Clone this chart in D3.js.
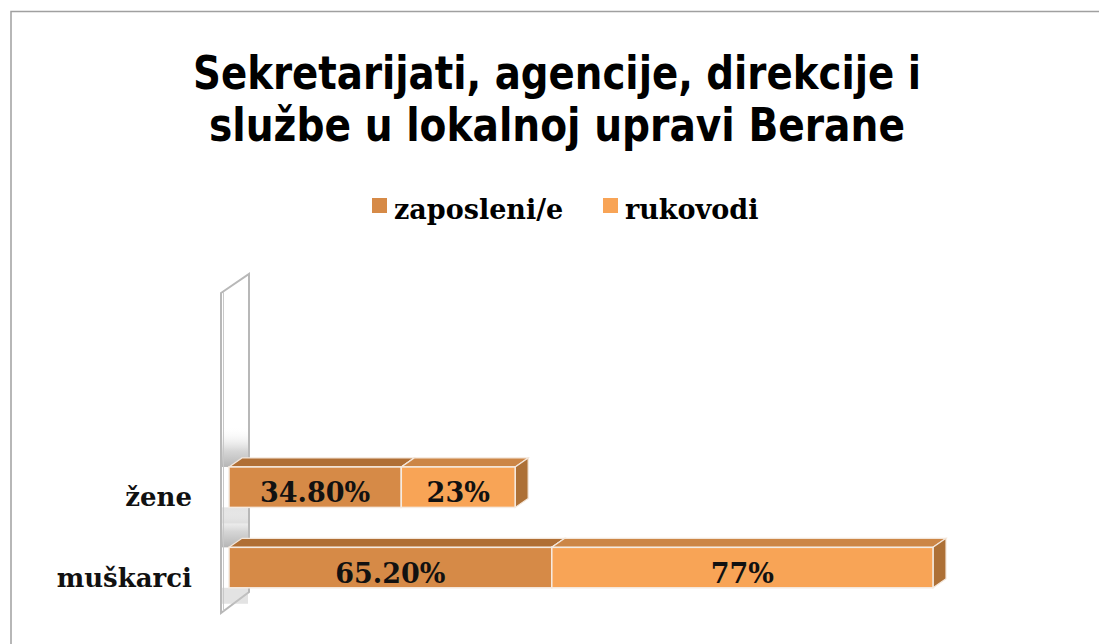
<!DOCTYPE html>
<html><head><meta charset="utf-8">
<script src="https://cdn.jsdelivr.net/npm/d3@7"></script>
<style>
html,body{margin:0;padding:0;background:#fff;}
svg{display:block;}
</style></head>
<body>
<svg id="chart" width="1099" height="644"></svg>
<script>
const categories = ["žene", "muškarci"];
const seriesNames = ["zaposleni/e", "rukovodi"];
const zaposleni = [34.8, 65.2];
const rukovodi = [23, 77];
const valueLabels = [["34.80%", "23%"], ["65.20%", "77%"]];
const titleLines = ["Sekretarijati, agencije, direkcije i", "službe u lokalnoj upravi Berane"];

const colors = {
  front: ["#D68A47", "#F8A456"],
  top: ["#B06F35", "#CC8646"],
  side: ["#A9692F", "#AD7036"]
};

const svg = d3.select("#chart");
const serif = "'DejaVu Serif', serif";

// frame
svg.append("path").attr("d", "M11,644 L11,11.5 L1099,11.5")
  .attr("fill", "none").attr("stroke", "#a0a0a0").attr("stroke-width", 1.5);

// title
const titleWidths = [728, 696];
titleLines.forEach((t, i) => {
  svg.append("text").attr("x", 557).attr("y", 89 + i * 52)
    .attr("text-anchor", "middle")
    .attr("textLength", titleWidths[i]).attr("lengthAdjust", "spacingAndGlyphs")
    .style("font-family", "'DejaVu Sans Condensed','DejaVu Sans',sans-serif")
    .style("font-weight", "bold").style("font-size", "47px").attr("fill", "#000")
    .text(t);
});

// legend
const legX = [372, 603];
seriesNames.forEach((s, i) => {
  svg.append("rect").attr("x", legX[i]).attr("y", 198).attr("width", 15).attr("height", 15)
    .attr("fill", colors.front[i]);
  svg.append("text").attr("x", legX[i] + 22).attr("y", 219)
    .style("font-family", serif).style("font-weight", "bold").style("font-size", "27px")
    .text(s);
});

const x = d3.scaleLinear().domain([0, 142.2]).range([229, 933]);
const y = d3.scaleBand().domain(categories).range([426.75, 628]).paddingInner(0.497).paddingOuter(0.5);
const dx = 13, dy = -9;

// wall
const wall = svg.append("g");
const defs = svg.append("defs");
const g1 = defs.append("linearGradient").attr("id", "wallShade").attr("x1", 0).attr("y1", 0).attr("x2", 0).attr("y2", 1);
g1.append("stop").attr("offset", "0").attr("stop-color", "#fff").attr("stop-opacity", 0);
g1.append("stop").attr("offset", "0.6").attr("stop-color", "#c4c4c4").attr("stop-opacity", 0.7);
g1.append("stop").attr("offset", "1").attr("stop-color", "#a8a8a8").attr("stop-opacity", 0.85);
wall.append("polygon").attr("points", "221,293 249,274 249,592 221,613")
  .attr("fill", "#fff").attr("stroke", "#b8b8b8").attr("stroke-width", 2);
categories.forEach(c => {
  const y0 = y(c);
  wall.append("rect").attr("x", 222).attr("y", y0 - 40).attr("width", 26).attr("height", 40)
    .attr("fill", "url(#wallShade)");
  wall.append("rect").attr("x", 222).attr("y", y0 + y.bandwidth()).attr("width", 26).attr("height", 16)
    .attr("fill", "#c8c8c8").attr("opacity", 0.5);
});
wall.append("line").attr("x1", 223.5).attr("x2", 223.5).attr("y1", 292).attr("y2", 611)
  .attr("stroke", "#c8c8c8").attr("stroke-width", 1);

// bars
const bars = svg.append("g");
categories.forEach((c, ci) => {
  const vals = [zaposleni[ci], rukovodi[ci]];
  let acc = 0;
  const y0 = y(c), h = y.bandwidth();
  vals.forEach((v, si) => {
    const x0 = x(acc), x1 = x(acc + v);
    acc += v;
    bars.append("polygon")
      .attr("points", [[x0, y0], [x0 + dx, y0 + dy], [x1 + dx, y0 + dy], [x1, y0]].map(p => p.join(",")).join(" "))
      .attr("fill", colors.top[si]).attr("stroke", "#f3e6da").attr("stroke-width", 1.2);
    bars.append("polygon")
      .attr("points", [[x1, y0], [x1 + dx, y0 + dy], [x1 + dx, y0 + dy + h], [x1, y0 + h]].map(p => p.join(",")).join(" "))
      .attr("fill", colors.side[si]).attr("stroke", "#f3e6da").attr("stroke-width", 1.2);
    bars.append("rect").attr("x", x0).attr("y", y0).attr("width", x1 - x0).attr("height", h)
      .attr("fill", colors.front[si]).attr("stroke", "#f5ebe2").attr("stroke-width", 1.5);
    bars.append("text").attr("x", (x0 + x1) / 2).attr("y", y0 + h / 2 + 15)
      .attr("text-anchor", "middle")
      .style("font-family", serif).style("font-weight", "bold").style("font-size", "27px")
      .attr("fill", "#111").text(valueLabels[ci][si]);
  });
  svg.append("text").attr("x", 192).attr("y", y0 + h / 2 + 19)
    .attr("text-anchor", "end")
    .style("font-family", serif).style("font-weight", "bold").style("font-size", "26px")
    .attr("fill", "#111").text(c);
});
</script>
</body></html>
